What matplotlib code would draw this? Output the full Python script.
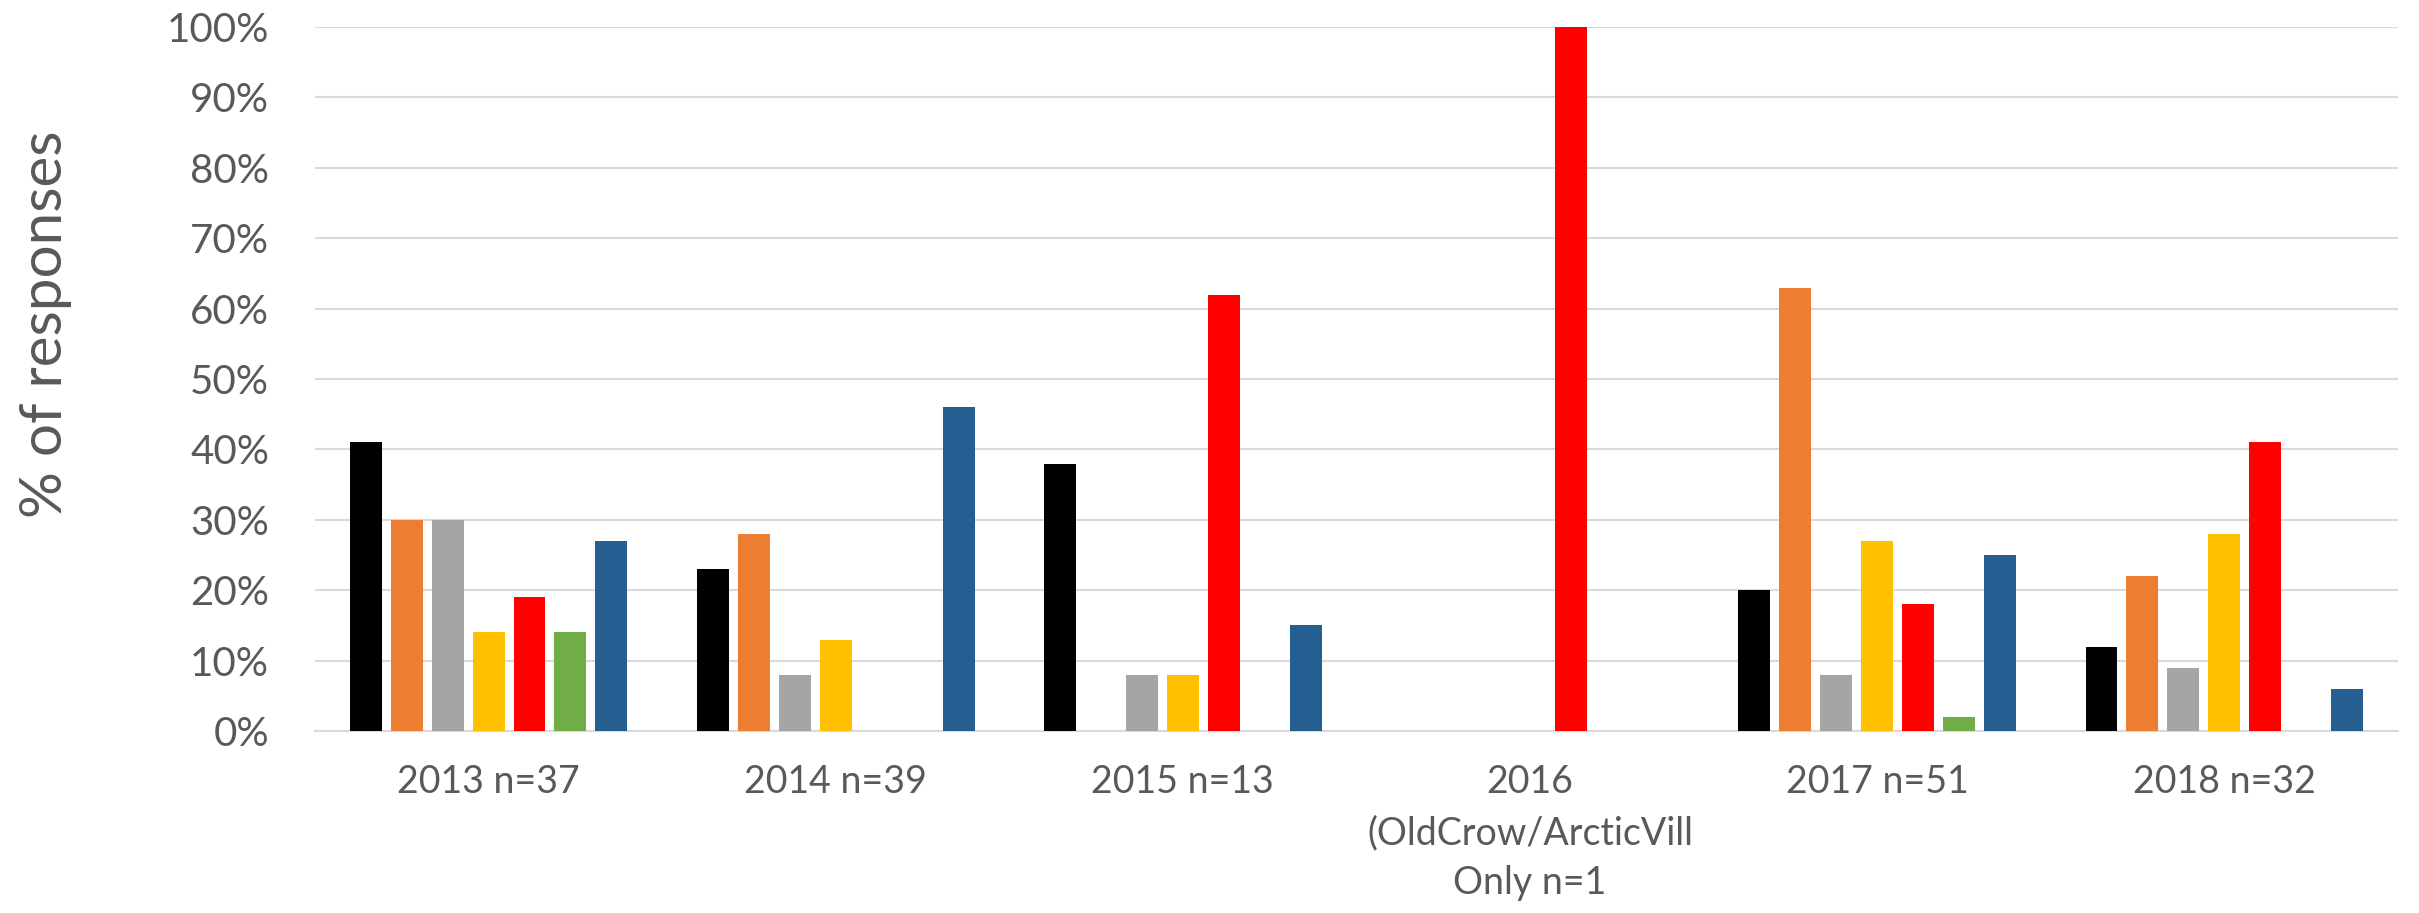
import numpy as np
import matplotlib
matplotlib.use("Agg")
import matplotlib.pyplot as plt
from matplotlib.ticker import PercentFormatter

# categories and series values (% of responses)
categories = ["2013 n=37", "2014 n=39", "2015 n=13",
              "2016\n(OldCrow/ArcticVill\nOnly n=1", "2017 n=51", "2018 n=32"]
black_vals = [41, 23, 38, 0, 20, 12]
orange_vals = [30, 28, 0, 0, 63, 22]
gray_vals = [30, 8, 8, 0, 8, 9]
yellow_vals = [14, 13, 8, 0, 27, 28]
red_vals = [19, 0, 62, 100, 18, 41]
green_vals = [14, 0, 0, 0, 2, 0]
blue_vals = [27, 46, 15, 0, 25, 6]

series = [black_vals, orange_vals, gray_vals, yellow_vals, red_vals, green_vals, blue_vals]
colors = ["#000000", "#ED7D31", "#A5A5A5", "#FFC000", "#FF0000", "#70AD47", "#255E91"]

plt.rcParams['font.family'] = ['Lato', 'DejaVu Sans']
text_col = "#595959"

fig = plt.figure(figsize=(24.19, 9.13), dpi=100)
ax = fig.add_axes([0.1302, 0.1993, 0.8611, 0.7711])

x = np.arange(len(categories))
pitch = 0.118
width = 0.092
for i, (vals, c) in enumerate(zip(series, colors)):
    ax.bar(x + (i - 3) * pitch, vals, width=width, color=c, zorder=3)

ax.set_xlim(-0.5, len(categories) - 0.5)
ax.set_ylim(0, 100)
ax.set_yticks(np.arange(0, 101, 10))
ax.yaxis.set_major_formatter(PercentFormatter(decimals=0))
ax.set_xticks(x)
ax.set_xticklabels(categories, linespacing=1.5)

ax.grid(axis='y', color="#D9D9D9", linewidth=1.5, zorder=0)
for s in ["top", "right", "left"]:
    ax.spines[s].set_visible(False)
ax.spines["bottom"].set_color("#D9D9D9")
ax.spines["bottom"].set_linewidth(1.5)
ax.tick_params(axis='both', length=0, colors=text_col)
ax.tick_params(axis='y', labelsize=29, pad=33)
ax.tick_params(axis='x', labelsize=27, pad=24)

fig.text(0.019, 1 - 324 / 913, "% of responses", rotation=90, fontsize=42,
         color=text_col, ha='center', va='center')

fig.savefig("out.png", dpi=100)
